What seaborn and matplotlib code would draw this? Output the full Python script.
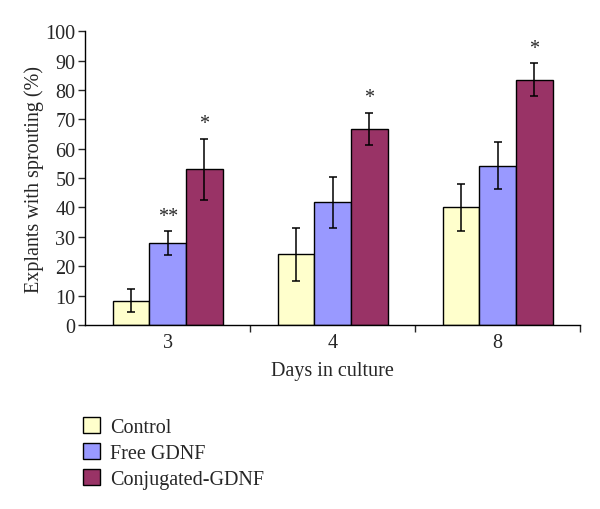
import pandas as pd
import matplotlib
matplotlib.use('Agg')
import matplotlib.pyplot as plt
import seaborn as sns
from matplotlib.patches import Patch

# Chart data
days = ['3', '4', '8']
groups = ['Control', 'Free GDNF', 'Conjugated-GDNF']
control = [8.3, 24.0, 40.0]
free_gdnf = [27.8, 41.7, 54.2]
conj_gdnf = [52.9, 66.8, 83.5]
control_err = [4.0, 9.0, 8.1]
free_err = [4.0, 8.6, 8.0]
conj_err = [10.4, 5.4, 5.5]
stars = [['', '**', '*'], ['', '', '*'], ['', '', '*']]
colors = ['#FFFFCC', '#9999FF', '#993366']

FS = 14.5

sns.set_style('white')
plt.rcParams['font.family'] = ['Liberation Serif', 'DejaVu Serif']

df = pd.DataFrame({
    'Day': days * 3,
    'Group': [g for g in groups for _ in days],
    'Value': control + free_gdnf + conj_gdnf,
    'Err': control_err + free_err + conj_err,
})

fig = plt.figure(figsize=(6, 5.1), dpi=100)
ax = fig.add_axes([0.142, 0.361, 0.825, 0.576])
sns.barplot(data=df, x='Day', y='Value', hue='Group', hue_order=groups,
            palette=colors, order=days, errorbar=None, width=0.667,
            edgecolor='black', linewidth=1.0, saturation=1, ax=ax, legend=False)

# Error bars and significance marks at bar centres
for gi, g in enumerate(groups):
    container = ax.containers[gi]
    sub = df[df['Group'] == g].set_index('Day').loc[days]
    for di, bar in enumerate(container.patches):
        xc = bar.get_x() + bar.get_width() / 2
        val = sub['Value'].iloc[di]
        err = sub['Err'].iloc[di]
        ax.errorbar(xc, val, yerr=err, color='black', capsize=3, elinewidth=1.1,
                    capthick=1.1)
        mark = stars[di][gi]
        if mark:
            ax.text(xc, val + err + 2.0, mark, ha='center', va='bottom', fontsize=FS)

ax.set_ylim(0, 100)
ax.set_xlim(-0.5, 2.5)
ax.set_yticks(range(0, 101, 10))
ax.set_xticks([0, 1, 2])
ax.set_xticks([0.5, 1.5, 2.5], minor=True)
ax.tick_params(axis='x', which='major', length=0, labelsize=FS, pad=6)
ax.tick_params(axis='x', which='minor', length=5, direction='out', width=1, bottom=True)
ax.tick_params(axis='y', length=5, direction='out', width=1, left=True, labelsize=FS, pad=2)
for s in ['top', 'right']:
    ax.spines[s].set_visible(False)
for s in ['left', 'bottom']:
    ax.spines[s].set_color('black')
    ax.spines[s].set_linewidth(1)
ax.set_xlabel('Days in culture', fontsize=FS, labelpad=6)
ax.set_ylabel('Explants with sprouting (%)', fontsize=FS, labelpad=1)

handles = [Patch(facecolor=c, edgecolor='black', linewidth=1) for c in colors]
fig.legend(handles, groups, loc='upper left', bbox_to_anchor=(0.125, 0.196),
           frameon=False, fontsize=FS, handlelength=0.85, handleheight=0.85,
           handletextpad=0.5, labelspacing=0.30, borderaxespad=0)

plt.savefig('out.png', dpi=100)
